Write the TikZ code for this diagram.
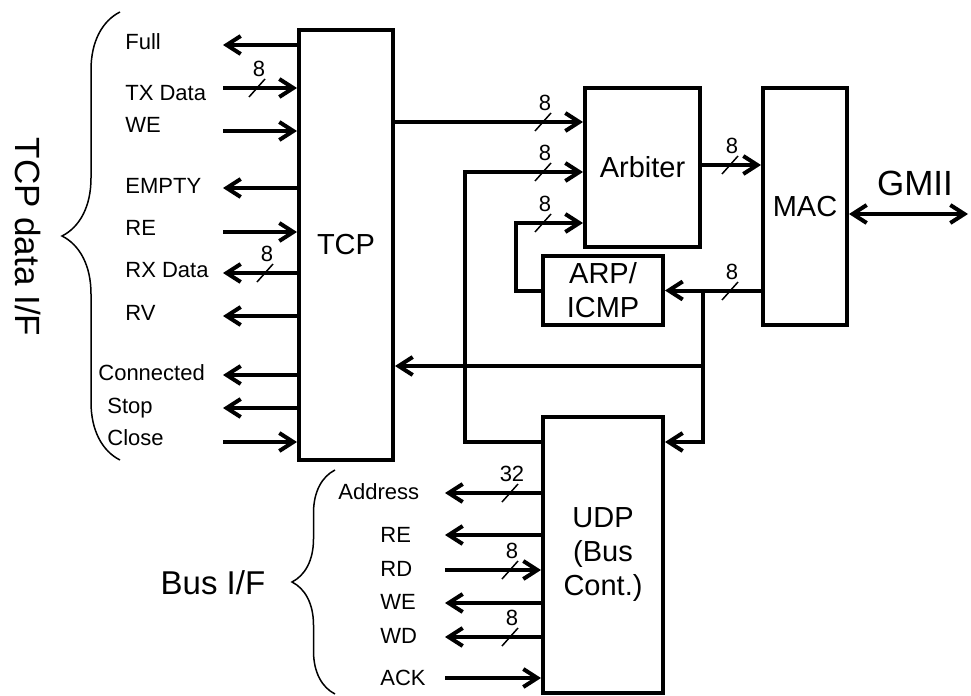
\documentclass[tikz,border=0pt]{standalone}
\usepackage{fontspec}
\setmainfont{Liberation Sans}
\usetikzlibrary{arrows.meta,decorations.pathreplacing}

\begin{document}
\begin{tikzpicture}[x=0.5pt,y=-0.5pt,
        >={Straight Barb[length=7pt,width=9pt]},
        wire/.style={line width=2pt},
        block/.style={draw, line width=2pt, inner sep=0pt, align=center,
            font=\fontsize{14.5}{17}\selectfont},
        lbl/.style={inner sep=0pt, font=\fontsize{11}{13}\selectfont},
        title/.style={inner sep=0pt, font=\fontsize{#1}{19}\selectfont},
        slash/.style={line width=0.75pt},
        curly/.style={decorate, decoration={brace, amplitude=#1}, line width=0.75pt}]
        \useasboundingbox[fill=white] (0,0) rectangle (971,696);
        % blocks
        \node[block, minimum width=47pt, minimum height=215pt] (tcp) at (346,245) {TCP};
        \node[block, minimum width=57.5pt, minimum height=79.5pt] (arb) at (642.5,167.5) {Arbiter};
        \node[block, minimum width=42pt, minimum height=118.5pt] (mac) at (805,206.5) {MAC};
        \node[block, minimum width=60pt, minimum height=34.5pt] (arp) at (603,290.5) {ARP/\\ICMP};
        \node[block, minimum width=60pt, minimum height=138pt] (udp) at (603,555) {UDP\\(Bus\\Cont.)};
        % TCP data I/F
        \foreach \ay/\by/\lx/\txt/\dir [count=\i] in {45/49/125/Full/<-, 88/100/125/TX Data/->,
            131/133/125/WE/->, 188/193/125/EMPTY/<-, 232/235/125/RE/->, 273/277/125/RX Data/<-,
            316/320/125/RV/<-, 375/380/98/Connected/<-, 408/413/107/Stop/<-, 442/445/107/Close/->}{
            \coordinate (t\i) at (223,\ay);
            \draw[wire,\dir] (t\i) -- (tcp.west |- t\i);
            \node[lbl, anchor=base west] (tl\i) at (\lx,\by) {\txt};
            }
        % Bus I/F
        \foreach \ay/\by/\lx/\txt/\dir [count=\i] in {493/499/338/Address/<-, 535/542/380/RE/<-,
            570/576/380/RD/->, 603/609/380/WE/<-, 637/643/380/WD/<-, 678/685/380/ACK/->}{
            \coordinate (b\i) at (445,\ay);
            \draw[wire,\dir] (b\i) -- (udp.west |- b\i);
            \node[lbl, anchor=base west] (bl\i) at (\lx,\by) {\txt};
            }
        % internal paths
        \coordinate (gmii) at (968,214);
        \coordinate (split) at (703,290.5);
        \draw[wire,->] (tcp.east |- 0,122) -- (arb.west |- 0,122);
        \draw[wire,->] (udp.west |- 0,442) -- ++(-76,0) |- (arb.west |- 0,172);
        \draw[wire,->] (arp.west) -- ++(-25,0) |- (arb.west |- 0,223);
        \draw[wire,->] (arb.east |- 0,165) -- (mac.west |- 0,165);
        \draw[wire,<->] (mac.east |- gmii) -- (gmii);
        \draw[wire,->] (mac.west |- arp.east) -- (arp.east);
        \draw[wire,->] (split) |- (udp.east |- 0,442);
        \draw[wire,->] (split |- 0,366) -- (tcp.east |- 0,366);
        % bus widths
        \foreach \x/\y/\n [count=\i] in {257/88/8, 265/273/8, 543/122/8, 543/172/8, 543/223/8,
            730/165/8, 730/291/8, 510/493/32, 510/570/8, 510/637/8}{
            \draw[slash] ({\x-8},{\y+9}) -- ++(16,-18);
            \node[lbl] (w\i) at ({\x+2},{\y-19}) {\n};
            }
        % braces and titles
        \draw[curly=29pt] (120,460) -- (120,12);
        \draw[curly=21.5pt] (335,694) -- (335,470);
        \node[title=17.5, rotate=-90] (tcpif) at (28,237) {TCP data I/F};
        \node[title=17.5] (gmiilbl) at (915,183) {GMII};
        \node[title=16.5] (busif) at (213,583) {Bus I/F};
    \end{tikzpicture}
\end{document}
